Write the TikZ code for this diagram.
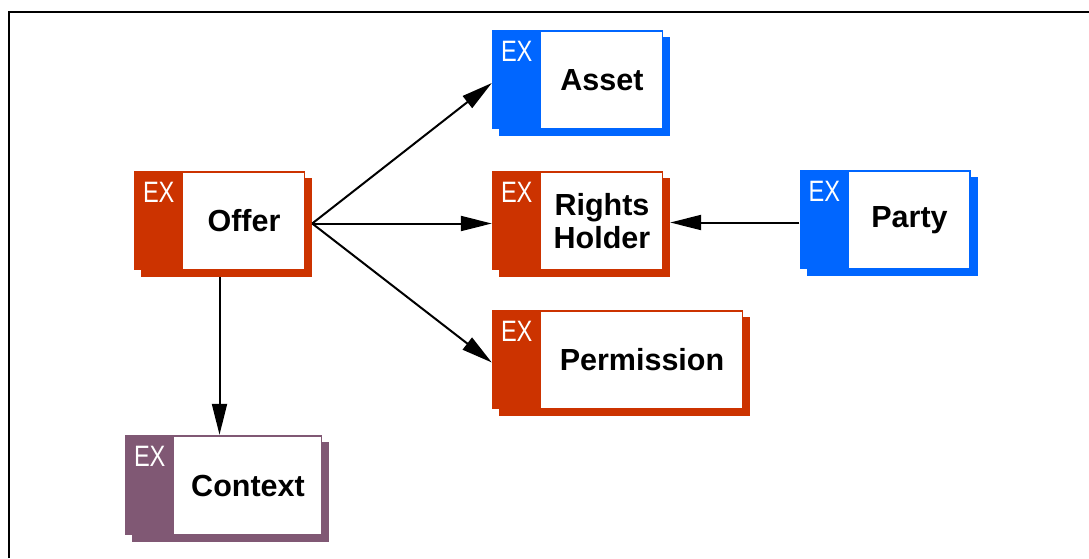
\documentclass[tikz,border=0pt]{standalone}
\usepackage{fontspec}
\setmainfont{Liberation Sans}
\usetikzlibrary{arrows.meta,calc}

\definecolor{exred}{RGB}{204,51,0}
\definecolor{exblue}{RGB}{0,102,255}
\definecolor{explum}{RGB}{128,88,116}

\tikzset{
  exbox/.style={fill=#1, draw=none, inner sep=0pt,
    path picture={
      \fill[white] ([xshift=49pt,yshift=-2pt]path picture bounding box.north west)
        rectangle ([xshift=-1.5pt,yshift=1.5pt]path picture bounding box.south east);
    }},
  extag/.style={text=white, inner sep=0pt, anchor=base west,
    font=\fontsize{29.5}{29.5}\selectfont},
  entitytext/.style={inner sep=0pt, align=center,
    font=\fontsize{30.5}{33}\selectfont\bfseries},
  link/.style={line width=2pt, -{Triangle[length=31pt,width=15pt]}},
  frameline/.style={line width=2pt}
}

% entity box: name, colour, centre x, centre y, width, height, label
\newcommand\exentity[7]{%
  \fill[#2] (#3-#5/2+7, #4-#6/2+7) rectangle (#3+#5/2+7, #4+#6/2+7);
  \node[exbox=#2, minimum width=#5pt, minimum height=#6pt] (#1) at (#3,#4) {};
  \node[extag] at ([xshift=9pt,yshift=-31.5pt]#1.north west) {\scalebox{0.8}[1]{EX}};
  \node[entitytext] at ([xshift=24.5pt,yshift=-0.5pt]#1.center) {#7};
}

\begin{document}
\begin{tikzpicture}[x=1pt,y=-1pt]
  \useasboundingbox (0,0) rectangle (1089,558);

  % outer frame (left and top edges)
  \draw[frameline] (8.5,558) -- (8.5,11.5) -- (1089,11.5);

  \exentity{offer}{exred}{219.5}{220.5}{171}{99}{Offer}
  \exentity{asset}{exblue}{577.5}{79.5}{171}{99}{Asset}
  \exentity{rights}{exred}{577.5}{220.5}{171}{99}{Rights\\Holder}
  \exentity{party}{exblue}{885}{219.5}{171}{99}{Party}
  \exentity{permission}{exred}{617.5}{359.5}{251}{99}{Permission}
  \exentity{context}{explum}{223.5}{485}{197}{100}{Context}

  % connector ports on the shadowed sides
  \coordinate (offer-out) at ([xshift=7pt,yshift=-3pt]offer.east);
  \coordinate (offer-down) at ([yshift=-7pt]offer.south);
  \coordinate (rights-in) at ([xshift=7pt,yshift=-2pt]rights.east);
  \coordinate (party-out) at ([yshift=-3pt]party.west);

  \draw[link] (offer-out) -- ([yshift=-3.5pt]asset.west);
  \draw[link] (offer-out) -- ([yshift=-3pt]rights.west);
  \draw[link] (offer-out) -- ([yshift=-3pt]permission.west);
  \draw[link] (party-out) -- (rights-in);
  \draw[link] (offer-down) -- (offer-down |- context.north);
\end{tikzpicture}
\end{document}
